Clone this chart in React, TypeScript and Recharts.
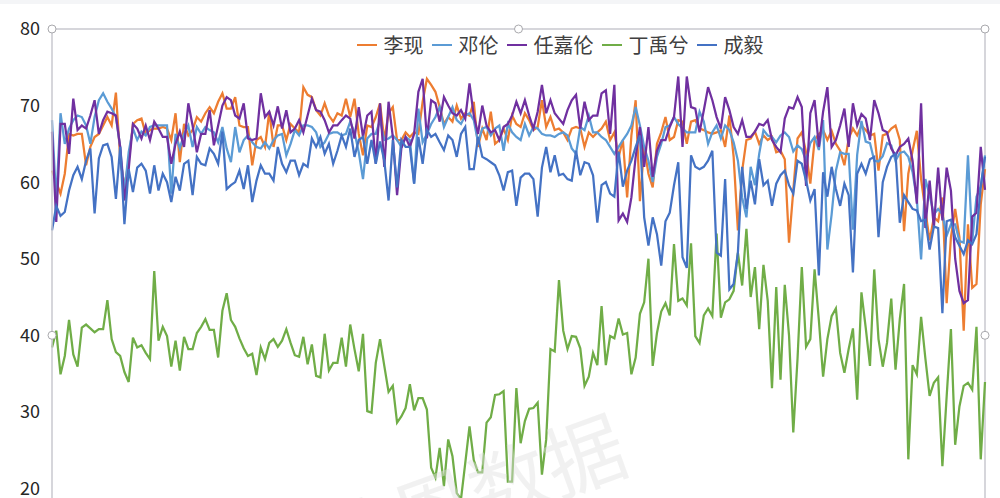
import React from 'react';
import { LineChart, Line, XAxis, YAxis, Legend, ReferenceLine, ReferenceDot } from 'recharts';

// daily index scores, 220 days
const liXian = [
  61.5, 60.0, 58.5, 61.1, 66.3, 66.1, 66.3, 66.3, 62.2, 64.6,
  65.9, 66.3, 67.4, 68.5, 67.4, 71.7, 63.3, 59.3, 62.8, 67.6,
  68.1, 68.3, 66.3, 66.8, 67.0, 67.0, 67.2, 67.0, 65.5, 69.0,
  62.6, 67.6, 66.1, 66.8, 68.5, 67.9, 69.0, 69.8, 69.0, 70.5,
  71.6, 69.6, 69.6, 71.1, 67.4, 67.2, 67.2, 62.2, 65.5, 65.9,
  64.6, 69.2, 64.6, 67.4, 67.4, 65.5, 67.6, 67.0, 66.5, 72.4,
  71.4, 71.1, 69.4, 68.7, 70.3, 68.7, 67.9, 69.0, 68.7, 70.9,
  68.5, 70.9, 66.3, 63.5, 67.4, 67.2, 68.5, 70.3, 65.5, 69.0,
  69.8, 65.5, 65.5, 66.5, 65.9, 66.5, 66.3, 70.5, 73.5, 72.7,
  71.8, 69.8, 67.6, 68.5, 67.9, 70.0, 68.3, 69.0, 68.7, 70.5,
  64.6, 67.0, 65.5, 69.2, 65.0, 65.5, 67.0, 65.5, 68.7, 67.6,
  67.2, 69.0, 68.1, 66.8, 67.2, 70.7, 67.2, 68.5, 66.8, 67.0,
  66.5, 65.5, 67.0, 67.2, 67.0, 64.6, 66.5, 65.9, 66.5, 67.0,
  67.9, 65.5, 66.5, 63.3, 65.5, 58.0, 66.1, 70.7, 57.5, 64.6,
  61.1, 59.3, 65.0, 66.5, 68.5, 65.5, 65.9, 68.1, 67.9, 65.0,
  67.9, 68.1, 67.0, 66.8, 66.5, 66.3, 66.5, 66.8, 64.6, 68.7,
  63.3, 53.7, 61.5, 65.5, 65.7, 66.6, 65.0, 66.1, 65.5, 65.9,
  63.9, 64.1, 63.0, 52.1, 58.9, 65.7, 66.5, 63.9, 59.8, 65.5,
  66.3, 66.8, 65.5, 66.7, 65.0, 64.1, 62.2, 65.7, 67.0, 66.1,
  67.4, 66.8, 66.1, 66.3, 61.5, 66.1, 66.3, 67.0, 67.4, 65.5,
  53.6, 61.1, 64.1, 66.7, 60.4, 56.3, 52.4, 55.4, 54.9, 58.0,
  44.2, 52.8, 56.5, 52.8, 40.6, 54.5, 46.2, 46.7, 57.1, 61.7,
];

const dengLun = [
  68.1, 57.6, 69.0, 65.0, 67.0, 68.1, 68.7, 68.5, 67.4, 65.0,
  68.5, 70.7, 71.6, 70.5, 69.6, 68.5, 64.6, 58.7, 63.9, 67.0,
  65.5, 66.6, 66.1, 67.2, 67.4, 67.4, 67.4, 67.4, 58.5, 66.3,
  64.4, 66.3, 67.4, 64.6, 67.2, 66.3, 67.2, 66.8, 66.5, 65.2,
  67.2, 64.4, 62.6, 67.2, 63.9, 65.5, 66.1, 65.2, 64.6, 64.4,
  65.2, 64.4, 65.5, 66.1, 66.3, 63.5, 65.0, 66.8, 66.1, 67.4,
  67.4, 67.2, 66.5, 64.6, 65.2, 66.3, 66.5, 66.5, 66.1, 66.3,
  67.9, 66.5, 63.9, 60.4, 65.7, 66.3, 66.3, 68.1, 65.5, 65.7,
  66.1, 65.5, 64.6, 65.9, 65.5, 59.8, 69.6, 65.2, 66.3, 67.6,
  68.5, 69.8, 67.2, 68.5, 69.8, 68.1, 67.6, 68.7, 69.0, 68.1,
  65.2, 67.0, 67.2, 66.1, 67.0, 67.4, 64.1, 67.6, 66.5, 65.9,
  65.5, 67.6, 66.1, 67.2, 67.0, 66.3, 66.1, 66.1, 65.9, 66.3,
  66.5, 66.1, 64.4, 63.7, 67.2, 66.8, 68.7, 66.5, 66.5, 65.9,
  65.5, 64.6, 63.7, 64.6, 65.5, 66.3, 67.4, 69.8, 67.4, 64.6,
  62.8, 60.0, 63.3, 65.0, 67.2, 67.4, 68.5, 67.6, 67.0, 66.5,
  66.5, 66.5, 69.2, 67.9, 65.0, 66.5, 67.4, 65.7, 67.4, 66.8,
  65.2, 62.8, 58.0, 55.4, 62.0, 59.6, 63.7, 66.8, 66.1, 65.9,
  65.2, 66.1, 66.5, 65.9, 64.0, 64.8, 64.3, 62.8, 65.1, 65.9,
  64.2, 68.1, 51.2, 55.8, 61.5, 63.9, 63.7, 63.7, 53.8, 63.6,
  68.0, 65.3, 65.1, 62.8, 62.7, 63.4, 65.1, 64.8, 62.8, 63.8,
  64.0, 63.3, 61.3, 57.8, 49.9, 60.4, 58.3, 55.8, 56.5, 55.8,
  53.0, 54.5, 54.5, 52.3, 52.1, 63.5, 52.3, 58.1, 59.4, 63.5,
];

const renJiaLun = [
  66.6, 54.8, 67.6, 67.6, 63.7, 70.9, 66.8, 67.4, 67.0, 68.7,
  70.7, 66.3, 68.1, 69.2, 69.0, 68.7, 64.6, 57.6, 61.7, 67.6,
  67.0, 65.7, 67.4, 65.5, 67.9, 67.0, 65.9, 65.9, 62.4, 65.0,
  66.6, 64.6, 70.3, 67.4, 63.9, 66.3, 66.3, 69.4, 64.8, 67.4,
  70.0, 71.1, 70.7, 68.7, 68.3, 70.3, 65.7, 65.5, 65.7, 71.6,
  68.5, 69.2, 67.4, 69.9, 67.0, 69.4, 66.5, 67.0, 68.1, 66.5,
  68.7, 70.9, 69.4, 69.2, 68.1, 66.5, 67.4, 67.4, 68.1, 68.7,
  68.3, 65.7, 69.8, 65.9, 68.7, 69.2, 62.4, 70.3, 62.0, 70.5,
  65.9, 58.3, 64.4, 65.9, 64.6, 66.3, 71.8, 73.5, 65.7, 70.7,
  70.3, 67.9, 71.1, 70.0, 69.0, 68.7, 69.4, 68.3, 72.9, 68.7,
  66.3, 70.0, 67.4, 66.5, 66.8, 65.5, 67.2, 67.6, 68.7, 70.5,
  69.0, 70.7, 68.7, 67.0, 69.2, 72.7, 69.0, 70.7, 69.0, 68.3,
  67.6, 69.4, 70.7, 71.4, 67.0, 70.5, 68.1, 68.7, 68.7, 71.6,
  72.0, 66.3, 72.7, 55.0, 55.9, 54.8, 58.0, 63.3, 67.2, 62.0,
  67.2, 60.7, 64.1, 65.5, 65.5, 67.2, 68.5, 73.8, 64.6, 73.8,
  69.8, 69.6, 66.5, 69.4, 72.4, 70.7, 68.5, 67.0, 71.1, 69.4,
  67.2, 66.3, 68.1, 65.9, 65.9, 66.6, 67.6, 67.4, 68.1, 65.5,
  64.6, 63.9, 68.3, 69.8, 69.6, 71.1, 69.8, 59.5, 69.0, 70.7,
  64.6, 69.2, 72.4, 64.6, 65.5, 67.4, 69.6, 64.6, 70.3, 67.4,
  68.9, 68.3, 65.5, 70.7, 69.0, 66.8, 66.5, 64.4, 63.5, 64.6,
  65.0, 65.7, 62.8, 57.2, 70.3, 54.0, 60.2, 54.1, 61.9, 55.0,
  61.9, 58.9, 50.0, 45.8, 44.2, 44.6, 55.5, 56.0, 64.6, 59.0,
];

const dingYuXi = [
  38.4, 40.6, 34.9, 37.3, 42.0, 37.5, 35.9, 41.0, 41.4, 40.9,
  40.4, 40.8, 40.8, 44.6, 39.5, 37.8, 37.3, 35.2, 33.9, 39.7,
  38.4, 38.7, 37.7, 36.9, 48.4, 39.3, 41.1, 39.9, 35.9, 39.3,
  35.4, 39.8, 38.2, 38.2, 40.3, 41.1, 42.1, 40.7, 40.7, 37.1,
  43.2, 45.5, 42.0, 41.1, 39.6, 38.3, 37.3, 37.6, 34.8, 38.4,
  36.9, 39.0, 39.5, 38.5, 39.3, 40.8, 39.0, 37.4, 37.2, 39.8,
  36.2, 38.8, 34.7, 34.5, 40.2, 35.4, 36.4, 36.4, 39.7, 35.9,
  41.4, 38.2, 35.3, 40.2, 30.1, 29.9, 36.4, 39.5, 36.0, 32.6,
  33.4, 28.6, 29.4, 30.5, 33.6, 30.2, 31.8, 31.8, 30.3, 22.7,
  21.4, 25.3, 20.3, 26.4, 24.2, 19.4, 18.6, 23.3, 28.1, 23.7,
  22.1, 22.1, 28.6, 29.3, 32.2, 32.3, 32.7, 20.9, 20.9, 33.1,
  25.9, 28.8, 30.4, 30.5, 31.2, 21.8, 26.4, 38.2, 37.9, 47.2,
  40.6, 38.2, 39.9, 39.8, 38.3, 33.4, 34.6, 37.7, 36.1, 43.8,
  36.1, 39.9, 39.6, 42.2, 40.1, 40.3, 34.9, 37.1, 42.8, 44.3,
  50.0, 36.0, 40.3, 43.1, 44.2, 42.6, 51.9, 44.5, 44.8, 43.9,
  52.0, 39.9, 39.0, 42.6, 43.5, 42.5, 53.3, 42.3, 44.3, 44.7,
  45.8, 50.8, 46.5, 53.9, 45.0, 48.9, 40.8, 49.2, 44.5, 33.1,
  46.3, 34.2, 46.6, 40.0, 27.3, 37.0, 48.9, 38.5, 39.5, 48.6,
  42.0, 34.6, 39.5, 42.5, 43.5, 37.7, 35.1, 38.2, 40.9, 31.6,
  45.6, 41.0, 36.0, 48.6, 39.5, 35.9, 39.0, 44.8, 35.5, 42.1,
  46.7, 23.8, 36.1, 34.9, 42.4, 37.0, 32.1, 33.8, 34.5, 22.9,
  32.0, 40.8, 25.7, 30.7, 33.4, 33.8, 32.9, 41.1, 23.8, 33.9,
];

const chengYi = [
  53.7, 56.9, 55.6, 56.1, 58.9, 60.9, 62.0, 60.4, 62.8, 64.4,
  55.9, 63.1, 64.8, 65.0, 63.3, 57.8, 64.6, 54.5, 61.7, 58.7,
  61.9, 62.4, 61.5, 58.5, 62.2, 58.9, 61.1, 60.0, 57.4, 60.7,
  58.9, 62.4, 62.8, 58.3, 63.3, 62.4, 62.2, 64.4, 63.7, 62.4,
  66.6, 59.1, 59.6, 60.0, 61.5, 59.1, 62.2, 57.4, 60.2, 62.2,
  61.1, 61.1, 60.2, 64.6, 62.4, 61.3, 62.8, 62.8, 60.9, 62.4,
  62.0, 65.7, 64.6, 65.9, 63.7, 65.0, 62.4, 64.1, 66.1, 64.6,
  67.0, 63.3, 65.5, 65.9, 62.4, 65.5, 62.4, 65.3, 62.8, 57.6,
  65.5, 59.3, 65.5, 64.6, 64.6, 59.8, 65.9, 62.4, 66.8, 65.9,
  66.3, 65.2, 64.2, 66.1, 65.5, 63.3, 66.3, 67.2, 61.7, 61.7,
  65.9, 63.3, 63.0, 62.6, 62.2, 60.9, 58.9, 61.3, 61.5, 56.9,
  60.6, 61.1, 61.1, 60.4, 55.5, 61.9, 64.6, 61.3, 63.5, 60.9,
  61.1, 60.4, 60.2, 64.1, 60.9, 62.6, 62.4, 60.9, 54.7, 59.6,
  60.0, 58.5, 58.1, 64.0, 59.4, 61.5, 62.8, 64.6, 66.1, 55.4,
  51.7, 55.4, 53.2, 49.1, 54.9, 56.0, 59.6, 62.6, 50.2, 48.8,
  63.5, 62.0, 61.7, 62.0, 62.8, 64.1, 50.8, 50.4, 60.4, 46.0,
  46.7, 50.8, 62.0, 56.5, 60.2, 57.1, 63.0, 59.6, 60.2, 56.9,
  59.8, 60.9, 61.5, 59.6, 58.5, 62.8, 62.4, 60.2, 57.6, 59.1,
  47.8, 61.3, 58.1, 62.0, 59.1, 56.9, 59.8, 58.3, 48.2, 61.1,
  62.4, 61.1, 63.0, 63.3, 52.8, 60.0, 62.0, 63.3, 63.7, 54.7,
  58.3, 57.4, 56.5, 56.3, 54.9, 55.1, 51.2, 54.2, 54.0, 42.9,
  54.9, 55.1, 52.8, 51.7, 50.6, 52.4, 51.9, 53.2, 59.4, 63.3,
];

const days = liXian.map((_, i) => i);
const yTicks = [20, 30, 40, 50, 60, 70, 80];

const series = [
  { name: '李现', values: liXian, color: '#ED7D31' },
  { name: '邓伦', values: dengLun, color: '#5B9BD5' },
  { name: '任嘉伦', values: renJiaLun, color: '#7030A0' },
  { name: '丁禹兮', values: dingYuXi, color: '#70AD47' },
  { name: '成毅', values: chengYi, color: '#4472C4' },
];

const rows = days.map((d, i) => {
  const row: Record<string, number> = { day: d };
  series.forEach((s) => {
    row[s.name] = s.values[i];
  });
  return row;
});

const lastDay = days[days.length - 1];
const FONT = '"Noto Sans CJK SC", "Noto Sans", sans-serif';
const BORDER = '#c9c9cf';

const LegendRow = () => (
  <div style={{ display: 'flex', justifyContent: 'center', alignItems: 'center', paddingLeft: 128 }}>
    {series.map((s) => (
      <div key={s.name} style={{ display: 'flex', alignItems: 'center', marginRight: 8 }}>
        <span style={{ display: 'inline-block', width: 20, height: 2, background: s.color, marginRight: 7 }} />
        <span style={{ fontSize: 20, color: '#404040', fontFamily: FONT, lineHeight: '24px' }}>{s.name}</span>
      </div>
    ))}
  </div>
);

const Handle = (x: number, y: number) => (
  <ReferenceDot
    key={`h-${x}-${y}`}
    x={x}
    y={y}
    r={4}
    fill="#fff"
    stroke="#a9a9ad"
    strokeWidth={1}
    ifOverflow="visible"
  />
);

export default function App() {
  return (
    <div
      style={{
        position: 'fixed',
        left: 0,
        top: 0,
        width: 1000,
        height: 498,
        overflow: 'hidden',
        background: '#fff',
      }}
    >
      <div style={{ position: 'absolute', left: 0, top: 0, width: 1000, height: 4, background: '#f4f5f7' }} />
      <LineChart
        width={1000}
        height={580}
        data={rows}
        margin={{ top: 29, right: 15, bottom: 15, left: 0 }}
      >
        <XAxis type="number" dataKey="day" domain={[0, lastDay]} hide />
        <YAxis
          type="number"
          domain={[10, 80]}
          ticks={yTicks}
          width={52}
          axisLine={{ stroke: BORDER, strokeWidth: 1.5 }}
          tickLine={false}
          tickMargin={6}
          tick={{ fill: '#262626', fontSize: 18, fontFamily: FONT }}
        />
        <ReferenceLine y={80} stroke={BORDER} strokeWidth={1.5} />
        <ReferenceLine x={lastDay} stroke={BORDER} strokeWidth={1.5} />
        <Legend
          verticalAlign="middle"
          align="center"
          wrapperStyle={{ top: 33, left: 0, width: 1000 }}
          content={() => <LegendRow />}
        />
        {series.map((s) => (
          <Line
            key={s.name}
            type="linear"
            dataKey={s.name}
            stroke={s.color}
            strokeWidth={2.25}
            dot={false}
            activeDot={false}
            isAnimationActive={false}
          />
        ))}
        {Handle(0, 80)}
        {Handle(lastDay / 2, 80)}
        {Handle(lastDay, 80)}
        {Handle(0, 40)}
        {Handle(lastDay, 40)}
      </LineChart>
      {/* faint source watermark */}
      <div
        style={{
          position: 'absolute',
          left: 300,
          top: 492,
          fontSize: 80,
          fontFamily: FONT,
          color: 'rgba(224, 224, 224, 0.45)',
          transform: 'rotate(-20deg)',
          transformOrigin: 'left top',
          whiteSpace: 'nowrap',
          pointerEvents: 'none',
        }}
      >
        艺恩数据
      </div>
    </div>
  );
}
